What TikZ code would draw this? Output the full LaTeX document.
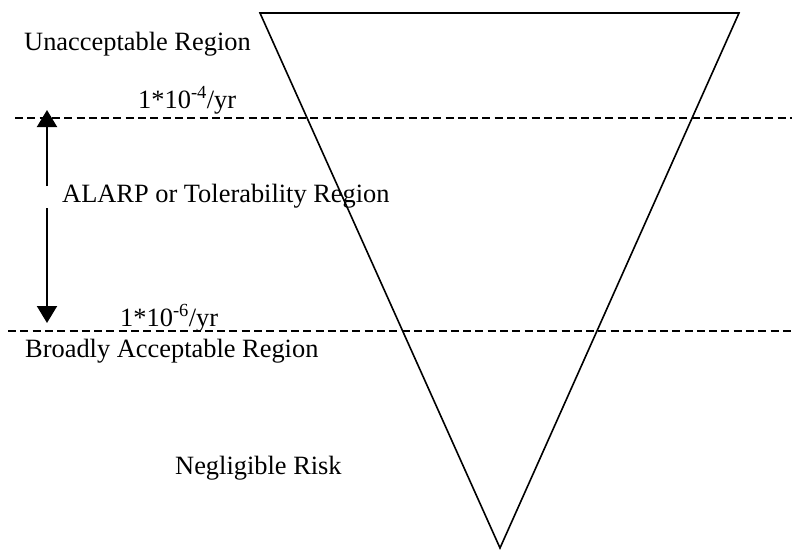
\documentclass[tikz,border=0pt]{standalone}
\usepackage{fontspec}
\setmainfont{Liberation Serif}
\usetikzlibrary{arrows.meta}
\begin{document}
\begin{tikzpicture}[x=1pt,y=-1pt,
  lbl/.style={anchor=base west,inner sep=0pt,font=\fontsize{26.4}{30}\selectfont},
  tri/.style={line width=1.6pt,line join=miter},
  dline/.style={line width=1.3pt,dash pattern=on 8pt off 4.3pt},
  arr/.style={line width=2pt,-{Triangle[width=20pt,length=17pt]}}]
\useasboundingbox (0,0) rectangle (792,549);
% triangle
\coordinate (tl) at (260,13);
\coordinate (tr) at (739,13);
\coordinate (bt) at (500,548);
\draw[tri] (tl) -- (tr) -- (bt) -- cycle;
% dashed lines
\coordinate (d1a) at (15,118);
\coordinate (d1b) at (792,118);
\coordinate (d2a) at (8,331);
\coordinate (d2b) at (792,331);
\draw[dline] (d1a) -- (d1b);
\draw[dline] (d2a) -- (d2b);
% arrow
\coordinate (atop) at (47,110);
\coordinate (ag1) at (47,186);
\coordinate (ag2) at (47,208);
\coordinate (abot) at (47,323);
\draw[arr] (ag1) -- (atop);
\draw[arr] (ag2) -- (abot);
% labels
\node[lbl] (unacc) at (24,50) {Unacceptable Region};
\node[lbl] (r4) at (138,108) {1*10\textsuperscript{-4}/yr};
\node[lbl] (alarp) at (62,202) {ALARP or Tolerability Region};
\node[lbl] (r6) at (120,326) {1*10\textsuperscript{-6}/yr};
\node[lbl] (broad) at (25,357) {Broadly Acceptable Region};
\node[lbl] (negl) at (175,474) {Negligible Risk};
\end{tikzpicture}
\end{document}
